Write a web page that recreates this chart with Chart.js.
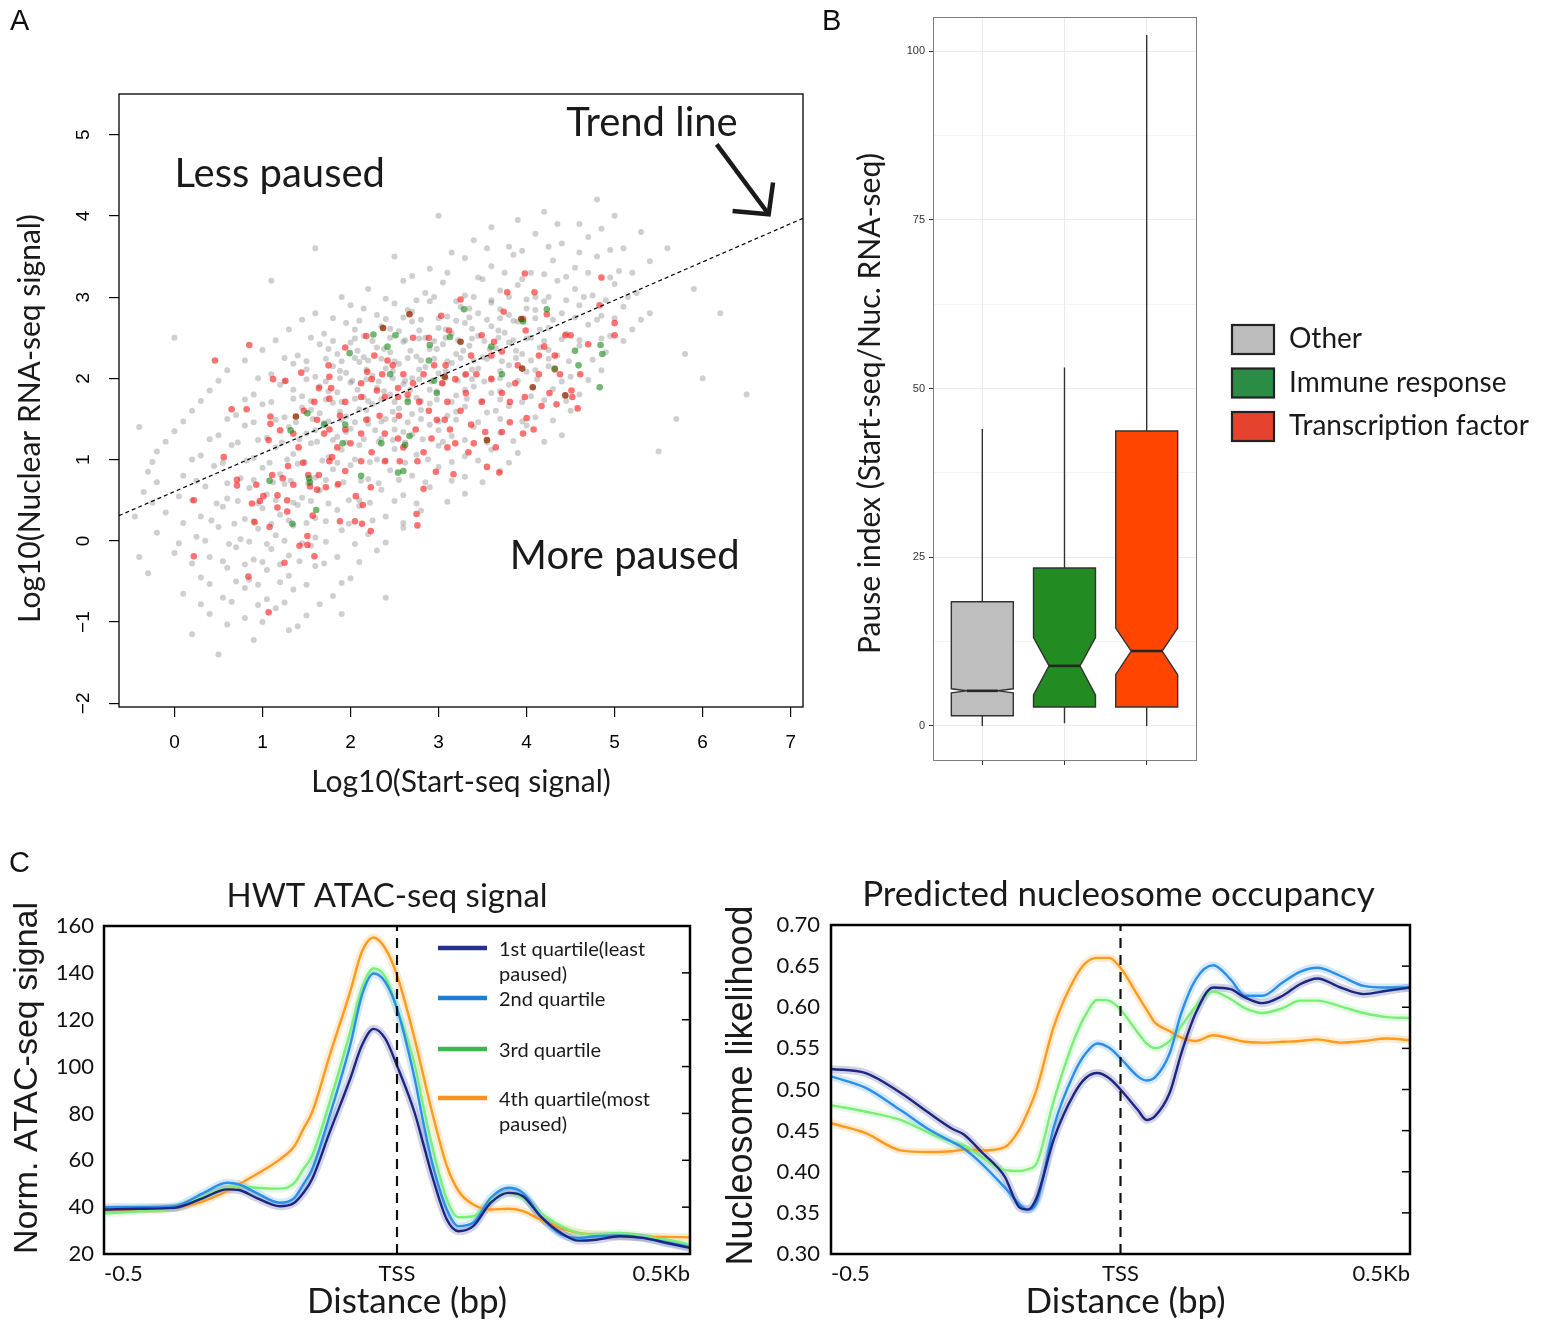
<!DOCTYPE html>
<html><head><meta charset="utf-8">
<script src="https://cdn.jsdelivr.net/npm/chart.js@4.4.1/dist/chart.umd.min.js"></script>
<style>
html,body{margin:0;padding:0;background:#fff;}
body{width:1545px;height:1323px;position:relative;overflow:hidden;}
canvas{position:absolute;}
.pl{position:absolute;font-family:"Liberation Sans",Arial,sans-serif;font-size:29px;line-height:30px;color:#111;}
</style></head><body>
<canvas id="cA" width="820" height="810" style="left:0;top:0"></canvas>
<canvas id="cB" width="715" height="790" style="left:830px;top:0"></canvas>
<canvas id="cC1" width="720" height="483" style="left:0;top:840px"></canvas>
<canvas id="cC2" width="825" height="483" style="left:720px;top:840px"></canvas>
<div class="pl" style="left:10px;top:5px">A</div>
<div class="pl" style="left:822px;top:5px">B</div>
<div class="pl" style="left:9px;top:847px">C</div>
<script>
// ---------------- Panel A data ----------------
const aXTicks = [0,1,2,3,4,5,6,7];
const aYTicks = [-2,-1,0,1,2,3,4,5];
const aXRange = [-0.63, 7.14];
const aYRange = [-2.045, 5.5];
const trendX = [-0.63, 7.14];
const trendY = [0.31, 3.97];
const aNotes = ["Less paused","Trend line","More paused"];
const aNoteX = [0.0, 4.45, 3.81];
const aNoteY = [4.36, 4.98, -0.35];
const arrowX = [6.16, 6.75, 6.34, 6.80];
const arrowY = [4.88, 4.02, 4.06, 4.41];
const otherPts = [
[3.9,3.95],[4.2,4.05],[4.6,3.9],[5.0,4.0],
[3.4,3.7],[3.8,3.62],[4.1,3.78],[4.4,3.66],[4.7,3.74],[5.1,3.6],[5.3,3.8],
[2.9,3.35],[3.3,3.48],[3.6,3.38],[3.85,3.52],[4.05,3.3],[4.3,3.45],[4.55,3.36],[4.8,3.5],[5.05,3.32],[5.4,3.44],
[2.2,3.1],[2.6,3.2],[2.85,3.05],[3.05,3.18],[3.3,3.02],[3.5,3.22],[3.7,3.08],[3.9,3.15],[4.1,3.0],[4.35,3.2],[4.55,3.1],[4.75,3.02],[5.0,3.16],[5.25,3.05],
[1.6,2.8],[2.0,2.9],[2.3,2.78],[2.5,2.92],[2.7,2.82],[2.9,2.95],[3.1,2.76],[3.25,2.88],[3.45,2.8],[3.6,2.93],[3.8,2.78],[4.0,2.86],[4.2,2.95],[4.4,2.8],[4.6,2.9],[4.85,2.77],[5.1,2.88],[5.4,2.8],
[1.3,2.6],[1.7,2.55],[1.95,2.68],[2.15,2.52],[2.35,2.64],[2.55,2.58],[2.7,2.7],[2.85,2.5],[3.0,2.62],[3.15,2.55],[3.3,2.68],[3.45,2.52],[3.6,2.64],[3.75,2.56],[3.9,2.7],[4.05,2.5],[4.25,2.62],[4.45,2.55],[4.7,2.66],[4.95,2.52],[5.2,2.6],
[1.0,2.35],[1.4,2.28],[1.65,2.42],[1.85,2.3],[2.0,2.44],[2.15,2.26],[2.3,2.38],[2.45,2.32],[2.6,2.45],[2.75,2.27],[2.9,2.36],[3.05,2.42],[3.2,2.3],[3.35,2.4],[3.5,2.26],[3.65,2.37],[3.8,2.44],[3.95,2.3],[4.15,2.38],[4.35,2.28],[4.6,2.4],[4.9,2.32],
[0.6,2.1],[1.1,2.05],[1.35,2.18],[1.6,2.02],[1.8,2.15],[1.95,2.07],[2.1,2.2],[2.25,2.03],[2.4,2.12],[2.55,2.18],[2.7,2.0],[2.85,2.14],[3.0,2.06],[3.15,2.19],[3.3,2.04],[3.45,2.12],[3.6,2.0],[3.8,2.16],[4.0,2.08],[4.25,2.15],[4.5,2.02],[4.85,2.1],
[0.4,1.85],[0.9,1.8],[1.2,1.92],[1.45,1.78],[1.65,1.9],[1.85,1.83],[2.0,1.95],[2.15,1.77],[2.3,1.88],[2.45,1.8],[2.6,1.93],[2.75,1.76],[2.9,1.86],[3.05,1.94],[3.2,1.79],[3.4,1.9],[3.6,1.82],[3.8,1.92],[4.05,1.78],[4.3,1.87],[4.6,1.8],
[0.2,1.6],[0.7,1.55],[1.0,1.68],[1.25,1.52],[1.45,1.64],[1.65,1.57],[1.8,1.7],[1.95,1.53],[2.1,1.62],[2.25,1.68],[2.4,1.5],[2.55,1.63],[2.7,1.56],[2.9,1.69],[3.1,1.54],[3.3,1.65],[3.55,1.58],[3.8,1.66],[4.1,1.52],[4.5,1.6],
[0.0,1.35],[0.5,1.3],[0.8,1.42],[1.05,1.27],[1.3,1.4],[1.5,1.32],[1.7,1.45],[1.85,1.28],[2.0,1.38],[2.2,1.44],[2.35,1.26],[2.5,1.37],[2.7,1.31],[2.9,1.43],[3.15,1.29],[3.4,1.4],[3.7,1.33],[4.0,1.42],[4.4,1.3],
[-0.2,1.1],[0.3,1.05],[0.65,1.18],[0.9,1.02],[1.15,1.15],[1.35,1.07],[1.55,1.2],[1.75,1.03],[1.9,1.12],[2.1,1.18],[2.3,1.0],[2.5,1.13],[2.75,1.06],[3.0,1.17],[3.3,1.04],[3.6,1.12],[3.9,1.08],
[-0.3,0.85],[0.1,0.8],[0.45,0.92],[0.75,0.77],[1.0,0.9],[1.2,0.82],[1.4,0.95],[1.6,0.78],[1.8,0.88],[2.0,0.93],[2.2,0.76],[2.45,0.87],[2.7,0.8],[3.0,0.91],[3.3,0.79],[3.7,0.86],
[-0.35,0.6],[0.05,0.55],[0.35,0.67],[0.6,0.52],[0.85,0.65],[1.05,0.57],[1.25,0.7],[1.45,0.53],[1.65,0.62],[1.85,0.68],[2.1,0.5],[2.35,0.63],[2.6,0.56],[2.9,0.66],[3.3,0.58],
[-0.1,0.35],[0.3,0.3],[0.55,0.42],[0.8,0.27],[1.0,0.4],[1.2,0.32],[1.4,0.44],[1.6,0.28],[1.85,0.38],[2.1,0.43],[2.4,0.3],[2.8,0.37],
[-0.2,0.1],[0.25,0.05],[0.5,0.17],[0.75,0.02],[0.95,0.15],[1.15,0.07],[1.35,0.19],[1.6,0.04],[1.9,0.13],[2.2,0.08],[2.6,0.16],
[0.0,-0.15],[0.4,-0.2],[0.7,-0.08],[0.9,-0.23],[1.1,-0.1],[1.3,-0.18],[1.55,-0.06],[1.85,-0.2],[2.3,-0.12],
[-0.3,-0.4],[0.3,-0.45],[0.6,-0.33],[0.85,-0.48],[1.05,-0.36],[1.3,-0.43],[1.6,-0.31],[2.0,-0.46],
[0.1,-0.65],[0.55,-0.7],[0.8,-0.58],[1.05,-0.72],[1.35,-0.6],[1.8,-0.68],
[0.4,-0.9],[0.8,-0.95],[1.15,-0.83],[1.5,-0.92],
[0.2,-1.15],[0.9,-1.22],[1.3,-1.1],
[5.8,2.3],[6.2,2.8],[5.6,3.6],[6.5,1.8],[5.7,1.5],[-0.4,-0.2],[1.6,3.6],[2.5,3.5],
[3.6,3.86],[4.35,3.9],[4.85,3.84],
[3.15,3.55],[3.55,3.6],[3.95,3.57],[4.25,3.62],[4.6,3.55],[4.95,3.58],
[2.7,3.26],[3.1,3.3],[3.45,3.24],[3.75,3.3],[3.95,3.22],[4.2,3.28],[4.45,3.25],[4.7,3.3],[4.95,3.24],[5.2,3.3],
[1.9,3.0],[2.4,2.98],[2.75,2.96],[2.95,3.0],[3.2,2.95],[3.4,3.0],[3.6,2.96],[3.8,3.0],[4.0,2.97],[4.25,3.0],[4.45,2.96],[4.65,3.0],[4.9,2.96],[5.15,3.0],
[1.45,2.72],[1.8,2.74],[2.1,2.71],[2.4,2.73],[2.6,2.75],[2.8,2.72],[3.0,2.74],[3.2,2.71],[3.35,2.75],[3.55,2.72],[3.7,2.74],[3.85,2.71],[4.1,2.74],[4.3,2.72],[4.55,2.75],[4.8,2.72],[5.0,2.74],[5.3,2.72],
[1.15,2.47],[1.55,2.5],[1.8,2.46],[2.05,2.49],[2.25,2.46],[2.45,2.5],[2.62,2.47],[2.78,2.49],[2.95,2.46],[3.08,2.5],[3.22,2.47],[3.38,2.49],[3.52,2.46],[3.68,2.5],[3.85,2.47],[4.0,2.49],[4.2,2.46],[4.4,2.48],[4.6,2.47],[4.85,2.49],[5.1,2.46],
[0.8,2.22],[1.25,2.25],[1.5,2.21],[1.72,2.24],[1.9,2.21],[2.05,2.25],[2.2,2.22],[2.35,2.24],[2.5,2.21],[2.65,2.25],[2.8,2.22],[2.95,2.24],[3.1,2.21],[3.25,2.25],[3.4,2.22],[3.55,2.24],[3.72,2.21],[3.88,2.25],[4.05,2.22],[4.25,2.24],[4.48,2.21],[4.75,2.23],
[0.5,1.97],[0.95,2.0],[1.25,1.96],[1.5,1.99],[1.72,1.96],[1.88,2.0],[2.02,1.97],[2.18,1.99],[2.32,1.96],[2.48,2.0],[2.62,1.97],[2.78,1.99],[2.92,1.96],[3.08,2.0],[3.22,1.97],[3.38,1.99],[3.52,1.96],[3.7,2.0],[3.9,1.97],[4.12,1.99],[4.4,1.96],[4.7,1.98],
[0.3,1.72],[0.8,1.74],[1.1,1.71],[1.35,1.75],[1.55,1.72],[1.72,1.74],[1.9,1.71],[2.05,1.75],[2.2,1.72],[2.35,1.74],[2.5,1.71],[2.65,1.75],[2.8,1.72],[2.98,1.74],[3.15,1.71],[3.32,1.75],[3.5,1.72],[3.7,1.74],[3.95,1.71],[4.2,1.73],[4.45,1.72],
[0.1,1.47],[0.6,1.5],[0.9,1.46],[1.15,1.49],[1.38,1.46],[1.57,1.5],[1.75,1.47],[1.9,1.49],[2.05,1.46],[2.2,1.5],[2.35,1.47],[2.5,1.49],[2.65,1.46],[2.8,1.5],[3.0,1.47],[3.2,1.49],[3.45,1.46],[3.7,1.5],[3.95,1.47],[4.3,1.48],
[-0.1,1.22],[0.4,1.25],[0.72,1.21],[0.95,1.24],[1.22,1.21],[1.42,1.25],[1.62,1.22],[1.8,1.24],[1.95,1.21],[2.15,1.25],[2.32,1.22],[2.48,1.24],[2.62,1.21],[2.82,1.25],[3.05,1.22],[3.3,1.24],[3.55,1.21],[3.85,1.23],[4.2,1.22],
[-0.25,0.97],[0.2,1.0],[0.55,0.96],[0.82,0.99],[1.08,0.96],[1.28,1.0],[1.48,0.97],[1.68,0.99],[1.85,0.96],[2.05,1.0],[2.22,0.97],[2.4,0.99],[2.62,0.96],[2.88,1.0],[3.15,0.97],[3.45,0.99],[3.8,0.96],
[-0.2,0.72],[0.25,0.74],[0.6,0.71],[0.9,0.75],[1.12,0.72],[1.32,0.74],[1.52,0.71],[1.72,0.75],[1.92,0.72],[2.12,0.74],[2.32,0.71],[2.55,0.75],[2.85,0.72],[3.15,0.74],[3.5,0.72],
[-0.25,0.47],[0.2,0.5],[0.48,0.46],[0.72,0.49],[0.95,0.46],[1.15,0.5],[1.35,0.47],[1.55,0.49],[1.75,0.46],[1.98,0.5],[2.22,0.47],[2.5,0.49],[2.75,0.46],[3.1,0.48],
[0.1,0.22],[0.42,0.25],[0.68,0.21],[0.9,0.24],[1.1,0.21],[1.3,0.25],[1.5,0.22],[1.72,0.24],[1.98,0.21],[2.25,0.25],[2.6,0.22],
[0.05,-0.03],[0.35,0.0],[0.62,-0.04],[0.85,-0.01],[1.05,-0.04],[1.25,0.0],[1.45,-0.03],[1.72,-0.01],[2.05,-0.04],[2.4,-0.02],
[0.2,-0.28],[0.55,-0.25],[0.8,-0.29],[1.0,-0.26],[1.2,-0.29],[1.42,-0.25],[1.7,-0.28],[2.1,-0.26],
[0.4,-0.53],[0.7,-0.5],[0.95,-0.54],[1.2,-0.51],[1.5,-0.54],[1.9,-0.52],
[0.3,-0.78],[0.65,-0.75],[0.95,-0.79],[1.25,-0.76],[1.65,-0.78],
[0.6,-1.03],[1.0,-1.0],[1.4,-1.05],
[-0.45,0.3],[-0.4,1.4],[5.9,3.1],[6.0,2.0],[0.0,2.5],[1.1,3.2],[3.0,4.0],[4.8,4.2],[0.5,-1.4],[2.4,-0.7],[5.5,1.1],[1.9,-0.9],
[2.15,2.86],[2.65,2.84],[3.35,2.86],[3.7,2.85],[4.1,2.84],
[2.05,2.6],[2.45,2.61],[2.78,2.59],[3.08,2.6],[3.38,2.61],[3.68,2.59],[4.15,2.6],
[1.75,2.36],[2.08,2.34],[2.38,2.36],[2.68,2.34],[2.98,2.36],[3.28,2.34],[3.58,2.36],[3.88,2.34],[4.25,2.35],
[1.5,2.11],[1.88,2.09],[2.18,2.11],[2.48,2.09],[2.78,2.11],[3.08,2.09],[3.38,2.11],[3.7,2.09],[4.1,2.1],
[1.35,1.86],[1.75,1.84],[2.08,1.86],[2.38,1.84],[2.68,1.86],[2.98,1.84],[3.3,1.86],[3.7,1.84],
[1.55,1.61],[1.88,1.59],[2.18,1.61],[2.48,1.59],[2.8,1.61],[3.2,1.59],[3.65,1.6],
[1.6,1.36],[1.95,1.34],[2.28,1.36],[2.6,1.34],[3.0,1.36]
];
const tfPts = [
[0.85,2.41],[0.46,2.22],[0.22,0.50],[0.22,-0.19],[0.65,1.62],[0.82,1.62],[0.56,1.03],[0.71,0.75],[0.71,0.68],[0.88,0.46],
[0.91,0.23],[0.84,-0.44],[1.07,-0.88],[1.08,0.17],[0.97,0.49],[1.01,0.55],[1.12,1.99],[1.26,1.97],[1.09,1.53],[1.09,1.44],
[1.20,1.36],[1.07,1.24],[1.23,0.77],[1.17,0.56],[1.28,0.50],[1.28,0.36],[1.17,0.41],[1.25,-0.27],[1.42,-0.06],[1.51,0.06],
[1.51,-0.05],[1.59,-0.19],[1.44,2.07],[1.46,0.96],[1.52,0.81],[1.54,0.67],[1.57,0.31],[1.62,0.63],[1.72,0.66],[1.86,0.70],
[1.88,0.24],[2.05,0.24],[2.13,0.21],[2.23,0.12],[2.14,0.44],[2.06,0.55],[2.23,0.66],[1.75,2.16],[1.76,2.02],[1.78,1.88],
[1.76,1.75],[1.94,2.38],[1.79,1.03],[1.76,0.98],[2.18,2.52],[2.12,1.94],[2.19,2.08],[2.27,2.28],[2.42,2.22],[2.39,1.77],
[2.54,1.88],[2.55,1.54],[2.39,0.98],[2.56,0.98],[2.60,1.15],[2.76,0.98],[2.75,0.33],[2.76,0.19],[2.83,0.64],[2.97,0.85],
[3.17,0.82],[3.25,2.97],[3.12,2.59],[3.03,2.77],[2.71,2.50],[2.89,2.50],[3.08,2.16],[3.31,2.05],[3.49,2.53],[3.37,2.28],
[3.63,2.45],[3.78,3.06],[3.74,2.82],[3.98,3.29],[4.09,3.06],[3.96,2.73],[4.23,2.79],[3.99,2.59],[4.20,2.39],[4.14,2.05],
[4.32,2.28],[4.38,2.05],[4.50,2.53],[4.51,1.85],[4.52,1.77],[4.58,1.63],[4.34,1.68],[4.17,1.66],[3.98,1.77],[4.00,1.51],
[3.81,1.46],[3.72,1.34],[3.69,0.84],[3.55,0.91],[3.65,1.15],[3.53,1.34],[3.37,1.43],[3.40,1.20],[3.34,1.09],[3.13,1.37],
[3.10,1.15],[3.07,1.49],[2.92,1.26],[2.89,1.60],[2.74,1.37],[2.78,1.71],[2.65,1.80],[2.54,1.77],[2.33,1.54],[2.18,1.49],
[2.12,1.32],[2.00,1.20],[1.85,1.15],[1.94,1.37],[1.70,1.32],[1.62,1.49],[1.59,1.71],[1.94,1.71],[2.30,1.85],[4.85,3.24],
[5.00,2.68],[5.00,2.53],[4.83,2.90],[4.70,2.42],[4.44,2.53],[4.32,2.11],[4.14,2.28],[3.90,2.16],[3.72,2.33],[3.60,2.28],
[3.43,2.05],[3.31,1.82],[3.19,1.99],[3.04,1.94],[2.95,2.16],[2.83,2.05],[2.71,1.94],[2.60,2.05],[2.48,2.16],[2.36,2.05],
[2.24,1.99],[2.12,1.77],[1.88,1.54],[1.76,1.37],[1.47,1.60],[1.35,1.32],[1.64,1.88],[4.61,2.05],[3.72,1.82],[3.60,1.99],
[3.87,1.94],[3.49,1.71],[3.25,1.60],[3.10,1.71],[2.98,1.49],[3.19,1.20],[2.83,1.09],[2.54,1.26],[2.39,1.32],[2.24,1.09],
[2.12,0.98],[1.94,0.86],[1.64,0.81],[1.41,1.15],[1.29,0.92],[1.11,0.81],[0.93,0.69],[1.35,0.69],[3.96,1.32],[4.08,1.37],
[3.81,1.71],[4.26,1.82]
];
const immunePts = [
[2.26,2.54],[2.51,2.53],[2.42,2.39],[1.99,2.31],[2.45,2.05],[2.90,2.41],[2.89,2.22],[3.29,2.85],[3.13,2.51],[3.60,2.39],
[3.96,2.70],[4.23,2.85],[4.55,2.34],[4.59,2.16],[4.84,2.41],[4.86,2.30],[4.83,1.89],[4.32,2.12],[3.72,2.05],[2.95,1.97],
[2.65,1.71],[1.94,1.43],[2.35,1.20],[2.67,1.29],[2.62,1.18],[2.54,0.84],[2.60,0.86],[2.12,0.80],[1.91,1.20],[1.53,0.77],
[1.61,0.38],[1.34,0.21],[1.54,0.72],[1.08,0.74],[1.32,1.36],[1.51,1.57],[1.70,1.43],[2.98,1.82]
];
const bothPts = [
[2.67,2.79],[2.37,2.62],[1.38,1.53],[3.94,2.73],[3.95,2.12],[4.07,1.89],[4.44,1.79],[3.55,1.24],[3.07,2.02],[3.25,2.45]
];

// ---------------- Panel B data ----------------
const bCats = ["Other","Immune response","Transcription factor"];
const bLow = [0, 0.4, 0];
const bQ1 = [1.5, 2.8, 2.8];
const bNotchLo = [4.9, 4.6, 7.6];
const bMed = [5.2, 8.9, 11.1];
const bNotchHi = [5.5, 13.1, 14.5];
const bQ3 = [18.4, 23.4, 43.7];
const bHigh = [44.0, 53.1, 102.4];
const bColors = ["#BEBEBE","#228B22","#FF4500"];
const bLegendColors = ["#bdbdbd","#2b8d45","#e5432d"];
const bYTicks = [0,25,50,75,100];
const bYMinor = [12.5,37.5,62.5,87.5];
const bYRange = [-5.05, 105.05];
const bXRange = [-0.6, 2.6];

// ---------------- Panel C data ----------------
const cSeries = ["1st quartile(least paused)","2nd quartile","3rd quartile","4th quartile(most paused)"];
const cLegendLines = [["1st quartile(least","paused)"],["2nd quartile"],["3rd quartile"],["4th quartile(most","paused)"]];
const cLineColors = ["#1d2682","#2b8fe8","#7aee78","#ff9a1c"];
const cLegendColors = ["#24318a","#1a7fcc","#3cb84c","#f7931e"];
const cXTicks = [-500, 0, 500];
const cXLabels = ["-0.5","TSS","0.5Kb"];
const cDist = [-500,-440,-380,-330,-290,-270,-240,-200,-175,-160,-145,-115,-80,-60,-40,-20,0,30,45,60,85,105,130,160,190,215,245,280,310,340,380,420,460,500];
const atacQ1 = [39.0,39.3,39.7,44.0,47.6,47.3,44.0,40.4,41.9,46.0,51.9,71.9,94.7,109.0,116.1,111.9,100.4,80.4,66.9,53.3,34.7,29.7,31.9,41.9,46.1,44.7,36.1,29.0,25.7,26.1,27.6,26.9,24.7,22.6];
const atacQ2 = [40.0,40.0,40.4,46.1,50.4,49.7,46.1,41.9,44.0,49.7,56.1,79.0,109.0,130.4,139.7,136.1,124.7,95.0,76.0,59.0,39.0,31.9,33.3,44.0,48.3,46.1,36.1,28.3,26.9,27.6,27.9,26.9,25.0,23.0];
const atacQ3 = [37.3,38.3,39.7,44.7,48.3,49.0,48.3,47.9,50.4,56.1,61.9,84.7,114.7,133.3,141.9,138.3,124.7,101.0,83.0,66.0,43.3,35.7,36.1,42.6,46.1,44.0,37.6,31.9,29.0,28.3,29.0,27.6,26.1,24.0];
const atacQ4 = [38.7,39.0,39.7,42.6,46.9,49.7,54.0,60.4,66.1,73.3,80.4,104.7,131.9,149.0,155.1,150.4,139.0,111.9,96.1,80.4,57.6,46.9,41.1,39.0,39.3,38.3,34.7,31.1,29.0,28.3,27.6,27.3,27.3,27.1];
const atacYTicks = [20,40,60,80,100,120,140,160];
const nucQ1 = [0.525,0.520,0.496,0.471,0.452,0.445,0.424,0.394,0.357,0.354,0.368,0.440,0.495,0.514,0.520,0.514,0.500,0.475,0.463,0.468,0.496,0.544,0.593,0.624,0.622,0.612,0.605,0.614,0.628,0.635,0.624,0.616,0.620,0.624];
const nucQ2 = [0.516,0.502,0.475,0.451,0.436,0.428,0.410,0.381,0.361,0.354,0.362,0.455,0.520,0.544,0.556,0.551,0.538,0.516,0.511,0.515,0.544,0.593,0.634,0.651,0.634,0.614,0.614,0.630,0.643,0.648,0.638,0.626,0.624,0.624];
const nucQ3 = [0.481,0.473,0.463,0.447,0.436,0.432,0.418,0.402,0.401,0.403,0.410,0.487,0.561,0.591,0.609,0.608,0.597,0.569,0.556,0.550,0.559,0.577,0.601,0.619,0.610,0.599,0.593,0.599,0.608,0.608,0.601,0.593,0.588,0.587];
const nucQ4 = [0.459,0.447,0.426,0.424,0.425,0.427,0.426,0.430,0.451,0.473,0.500,0.577,0.634,0.654,0.660,0.660,0.648,0.614,0.597,0.581,0.571,0.563,0.559,0.566,0.562,0.558,0.557,0.558,0.559,0.561,0.557,0.559,0.562,0.560];
const nucYTicks = [0.30,0.35,0.40,0.45,0.50,0.55,0.60,0.65,0.70];

// ---------------- helpers ----------------
Chart.defaults.font.family = 'Lato';
Chart.defaults.color = '#111';
const toPts = arr => arr.map(p => ({x:p[0], y:p[1]}));
const fixSize = (w,h) => s => { if (w!=null) s.width = w; if (h!=null) s.height = h; };
const setTicks = arr => s => { s.ticks = arr.map(v => ({value:v})); };
const baseOpts = {responsive:false, animation:false, devicePixelRatio:1, events:[]};
function vText(ctx, text, x, y, font){
  ctx.save(); ctx.font = font; ctx.fillStyle = '#1a1a1a'; ctx.textAlign = 'center'; ctx.textBaseline = 'middle';
  ctx.translate(x, y); ctx.rotate(-Math.PI/2); ctx.fillText(text, 0, 0); ctx.restore();
}

// ---------------- Panel A ----------------
const aPlugin = {
  id:'aDeco',
  afterDraw(chart){
    const {ctx, chartArea:ca, scales:{x,y}} = chart;
    ctx.save();
    ctx.strokeStyle='#000'; ctx.lineWidth=1.3;
    ctx.strokeRect(ca.left, ca.top, ca.width, ca.height);
    ctx.fillStyle='#000'; ctx.font='19px "Liberation Sans"';
    ctx.textAlign='center'; ctx.textBaseline='middle';
    aYTicks.forEach(v=>{
      ctx.save(); ctx.translate(ca.left-35, y.getPixelForValue(v)); ctx.rotate(-Math.PI/2);
      ctx.fillText(String(v).replace('-','\u2212'),0,0); ctx.restore();
    });
    ctx.font='40px Lato'; ctx.fillStyle='#1a1a1a'; ctx.textAlign='left'; ctx.textBaseline='alphabetic';
    aNotes.forEach((t,i)=>ctx.fillText(t, x.getPixelForValue(aNoteX[i]), y.getPixelForValue(aNoteY[i])));
    const P = i => [x.getPixelForValue(arrowX[i]), y.getPixelForValue(arrowY[i])];
    ctx.strokeStyle='#1a1a1a'; ctx.lineWidth=4.5; ctx.lineCap='butt'; ctx.lineJoin='miter';
    ctx.beginPath(); ctx.moveTo(...P(0)); ctx.lineTo(...P(1)); ctx.stroke();
    ctx.beginPath(); ctx.moveTo(...P(2)); ctx.lineTo(...P(1)); ctx.lineTo(...P(3)); ctx.stroke();
    ctx.restore();
    vText(ctx, 'Log10(Nuclear RNA-seq signal)', ca.left-89, ca.top+ca.height/2+18, '30px Lato');
  }
};
new Chart(document.getElementById('cA'), {
  type:'scatter',
  data:{datasets:[
    {label:'Trend line', type:'line', data: trendX.map((v,i)=>({x:v, y:trendY[i]})), borderColor:'#000', borderWidth:1.2, borderDash:[4,3], pointRadius:0, order:0},
    {label:'Immune response', data: toPts(immunePts), backgroundColor:'rgba(20,135,20,0.6)', borderWidth:0, pointRadius:3.3, order:1},
    {label:'Both', data: toPts(bothPts), backgroundColor:'rgba(155,55,15,0.85)', borderWidth:0, pointRadius:3.3, order:2},
    {label:'Transcription factor', data: toPts(tfPts), backgroundColor:'rgba(255,20,20,0.6)', borderWidth:0, pointRadius:3.3, order:3},
    {label:'Other', data: toPts(otherPts), backgroundColor:'rgba(115,115,115,0.34)', borderWidth:0, pointRadius:3.0, order:10}
  ]},
  options:{...baseOpts,
    layout:{padding:{top:94,right:17,left:0,bottom:0}},
    plugins:{legend:{display:false}, tooltip:{enabled:false}},
    scales:{
      x:{type:'linear', min:aXRange[0], max:aXRange[1], afterBuildTicks:setTicks(aXTicks), afterFit:fixSize(null,103),
        grid:{drawOnChartArea:false, drawTicks:true, tickLength:10, color:'#000', lineWidth:1.2},
        border:{display:false},
        ticks:{font:{family:'Liberation Sans', size:19}, padding:14, color:'#000', maxRotation:0},
        title:{display:true, text:'Log10(Start-seq signal)', font:{family:'Lato', size:30}, padding:{top:0,bottom:10}, color:'#1a1a1a'}},
      y:{type:'linear', min:aYRange[0], max:aYRange[1], afterBuildTicks:setTicks(aYTicks), afterFit:fixSize(119,null),
        grid:{drawOnChartArea:false, drawTicks:true, tickLength:10, color:'#000', lineWidth:1.2},
        border:{display:false},
        ticks:{display:false}}
    }
  },
  plugins:[aPlugin]
});

// ---------------- Panel B ----------------
const bPlugin = {
  id:'bBoxes',
  beforeDatasetsDraw(chart){
    const {ctx, scales:{x,y}} = chart;
    const hw = 0.377;
    const X = v => x.getPixelForValue(v), Y = v => y.getPixelForValue(v);
    ctx.save();
    bCats.forEach((c,i)=>{
      ctx.strokeStyle='#333'; ctx.lineWidth=1.4;
      ctx.beginPath();
      ctx.moveTo(X(i),Y(bLow[i])); ctx.lineTo(X(i),Y(bQ1[i]));
      ctx.moveTo(X(i),Y(bQ3[i])); ctx.lineTo(X(i),Y(bHigh[i]));
      ctx.stroke();
      ctx.beginPath();
      ctx.moveTo(X(i-hw),Y(bQ1[i]));
      ctx.lineTo(X(i-hw),Y(bNotchLo[i]));
      ctx.lineTo(X(i-hw/2),Y(bMed[i]));
      ctx.lineTo(X(i-hw),Y(bNotchHi[i]));
      ctx.lineTo(X(i-hw),Y(bQ3[i]));
      ctx.lineTo(X(i+hw),Y(bQ3[i]));
      ctx.lineTo(X(i+hw),Y(bNotchHi[i]));
      ctx.lineTo(X(i+hw/2),Y(bMed[i]));
      ctx.lineTo(X(i+hw),Y(bNotchLo[i]));
      ctx.lineTo(X(i+hw),Y(bQ1[i]));
      ctx.closePath();
      ctx.fillStyle=bColors[i]; ctx.fill(); ctx.stroke();
      ctx.lineWidth=2.6; ctx.strokeStyle='#262626'; ctx.beginPath();
      ctx.moveTo(X(i-hw/2),Y(bMed[i])); ctx.lineTo(X(i+hw/2),Y(bMed[i])); ctx.stroke();
    });
    ctx.restore();
  },
  afterDraw(chart){
    const {ctx, chartArea:ca} = chart;
    ctx.save();
    ctx.strokeStyle='#7f7f7f'; ctx.lineWidth=1;
    ctx.strokeRect(ca.left+0.5, ca.top+0.5, ca.width, ca.height);
    ctx.font='28px Lato'; ctx.textBaseline='middle'; ctx.textAlign='left';
    bCats.forEach((c,i)=>{
      const bx = ca.right+36, by = ca.top+308+i*43.5;
      ctx.fillStyle=bLegendColors[i]; ctx.fillRect(bx,by,42,29);
      ctx.strokeStyle='#222'; ctx.lineWidth=2.2; ctx.strokeRect(bx,by,42,29);
      ctx.fillStyle='#1a1a1a'; ctx.fillText(c, bx+57, by+14);
    });
    ctx.restore();
    vText(ctx, 'Pause index (Start-seq/Nuc. RNA-seq)', ca.left-63, ca.top+ca.height/2+15, '30px Lato');
  }
};
new Chart(document.getElementById('cB'), {
  type:'scatter',
  data:{datasets:[{label:'median', data: bMed.map((m,i)=>({x:i, y:m})), pointRadius:0}]},
  options:{...baseOpts,
    layout:{padding:{top:17,right:349,left:0,bottom:0}},
    plugins:{legend:{display:false}, tooltip:{enabled:false}},
    scales:{
      x:{type:'linear', min:bXRange[0], max:bXRange[1], afterBuildTicks:setTicks([0,1,2]), afterFit:fixSize(null,30),
        grid:{color:'#ebebeb', lineWidth:1, tickColor:'#333', tickLength:5, drawTicks:true},
        border:{display:false},
        ticks:{callback:()=>''}},
      y:{type:'linear', min:bYRange[0], max:bYRange[1], afterBuildTicks:setTicks([...bYTicks,...bYMinor].sort((a,b)=>a-b)), afterFit:fixSize(103,null),
        grid:{color:'#ebebeb', lineWidth:c=>bYTicks.includes(c.tick.value)?1:0.6,
              tickColor:c=>bYTicks.includes(c.tick.value)?'#333':'rgba(0,0,0,0)', tickLength:4, drawTicks:true},
        border:{display:false},
        ticks:{font:{family:'Liberation Sans', size:11}, color:'#333', padding:4, callback:v=>bYTicks.includes(v)?String(v):''}}
    }
  },
  plugins:[bPlugin]
});

// ---------------- Panel C ----------------
function cDeco(o){
  return {
    id:'cDeco',
    afterDraw(chart){
      const {ctx, chartArea:ca, scales:{y}} = chart;
      const cx = (ca.left+ca.right)/2, cy = (ca.top+ca.bottom)/2;
      ctx.save();
      ctx.strokeStyle='#000'; ctx.lineWidth=1.5;
      y.ticks.forEach(t=>{
        const py = y.getPixelForValue(t.value);
        ctx.beginPath(); ctx.moveTo(ca.right-8, py); ctx.lineTo(ca.right, py); ctx.stroke();
      });
      ctx.lineWidth=2.5;
      ctx.strokeRect(ca.left, ca.top, ca.width, ca.height);
      ctx.fillStyle='#1a1a1a'; ctx.textAlign='center'; ctx.textBaseline='middle';
      ctx.font = o.titleFont; ctx.fillText(o.title, cx+o.titleDx, ca.top-30);
      ctx.font = '35px Lato'; ctx.fillText('Distance (bp)', cx+o.xtDx, ca.bottom+48);
      if (o.legend){
        ctx.font='20px Lato'; ctx.textAlign='left';
        const rows=[22,72,123,172];
        cLegendLines.forEach((lines,i)=>{
          const ly = ca.top+rows[i];
          ctx.strokeStyle=cLegendColors[i]; ctx.lineWidth=4.5;
          ctx.beginPath(); ctx.moveTo(ca.left+334, ly); ctx.lineTo(ca.left+383, ly); ctx.stroke();
          ctx.fillStyle='#1a1a1a';
          lines.forEach((t,k)=>ctx.fillText(t, ca.left+395, ly+2+k*25));
        });
      }
      ctx.restore();
      vText(ctx, o.ytitle, ca.left+o.ytX, cy+o.ytDy, o.ytFont);
    }
  };
}
function makeC(id, series, yTicks, fmt, yW, yPad, rightPad, deco){
  const yMin = yTicks[0], yMax = yTicks[yTicks.length-1];
  const ds = [];
  series.forEach((arr,i)=>{
    const pts = cDist.map((d,k)=>({x:d, y:arr[k]}));
    ds.push({label:cSeries[i], data:pts, borderColor:cLineColors[i], borderWidth:2.4, pointRadius:0, cubicInterpolationMode:'monotone', order:i+1});
    ds.push({label:cSeries[i]+' band', data:pts, borderColor:cLineColors[i]+'33', borderWidth:8, pointRadius:0, cubicInterpolationMode:'monotone', order:20+i});
  });
  ds.push({label:'TSS', data:[{x:0,y:yMin},{x:0,y:yMax}], borderColor:'#111', borderWidth:2.2, borderDash:[10,7], pointRadius:0, order:0});
  new Chart(document.getElementById(id), {
    type:'line',
    data:{datasets:ds},
    options:{...baseOpts,
      layout:{padding:{top:deco.top,right:rightPad,left:0,bottom:0}},
      plugins:{legend:{display:false}, tooltip:{enabled:false}},
      scales:{
        x:{type:'linear', min:cXTicks[0], max:cXTicks[2], afterBuildTicks:setTicks(cXTicks), afterFit:fixSize(null,69),
          grid:{display:false}, border:{display:false},
          ticks:{align:'inner', padding:-1, maxRotation:0, font:{family:'Lato', size:22}, color:'#111', callback:(v,i)=>cXLabels[i]}},
        y:{type:'linear', min:yMin, max:yMax, afterBuildTicks:setTicks(yTicks), afterFit:fixSize(yW,null),
          grid:{display:false}, border:{display:false},
          ticks:{padding:yPad, font:{family:'Lato', size:22}, color:'#111', callback:fmt}}
      }
    },
    plugins:[cDeco(deco)]
  });
}
makeC('cC1', [atacQ1,atacQ2,atacQ3,atacQ4], atacYTicks, v=>String(v), 104, 2, 30,
  {top:86, title:'HWT ATAC-seq signal', titleFont:'33px Lato', titleDx:-10, xtDx:10,
   ytitle:'Norm. ATAC-seq signal', ytFont:'34px "Liberation Sans"', ytX:-76, ytDy:-12, legend:true});
makeC('cC2', [nucQ1,nucQ2,nucQ3,nucQ4], nucYTicks, v=>v.toFixed(2), 111, 3, 135,
  {top:85, title:'Predicted nucleosome occupancy', titleFont:'35px Lato', titleDx:-2, xtDx:5,
   ytitle:'Nucleosome likelihood', ytFont:'36px "Liberation Sans"', ytX:-89, ytDy:-4, legend:false});
</script>
</body></html>
